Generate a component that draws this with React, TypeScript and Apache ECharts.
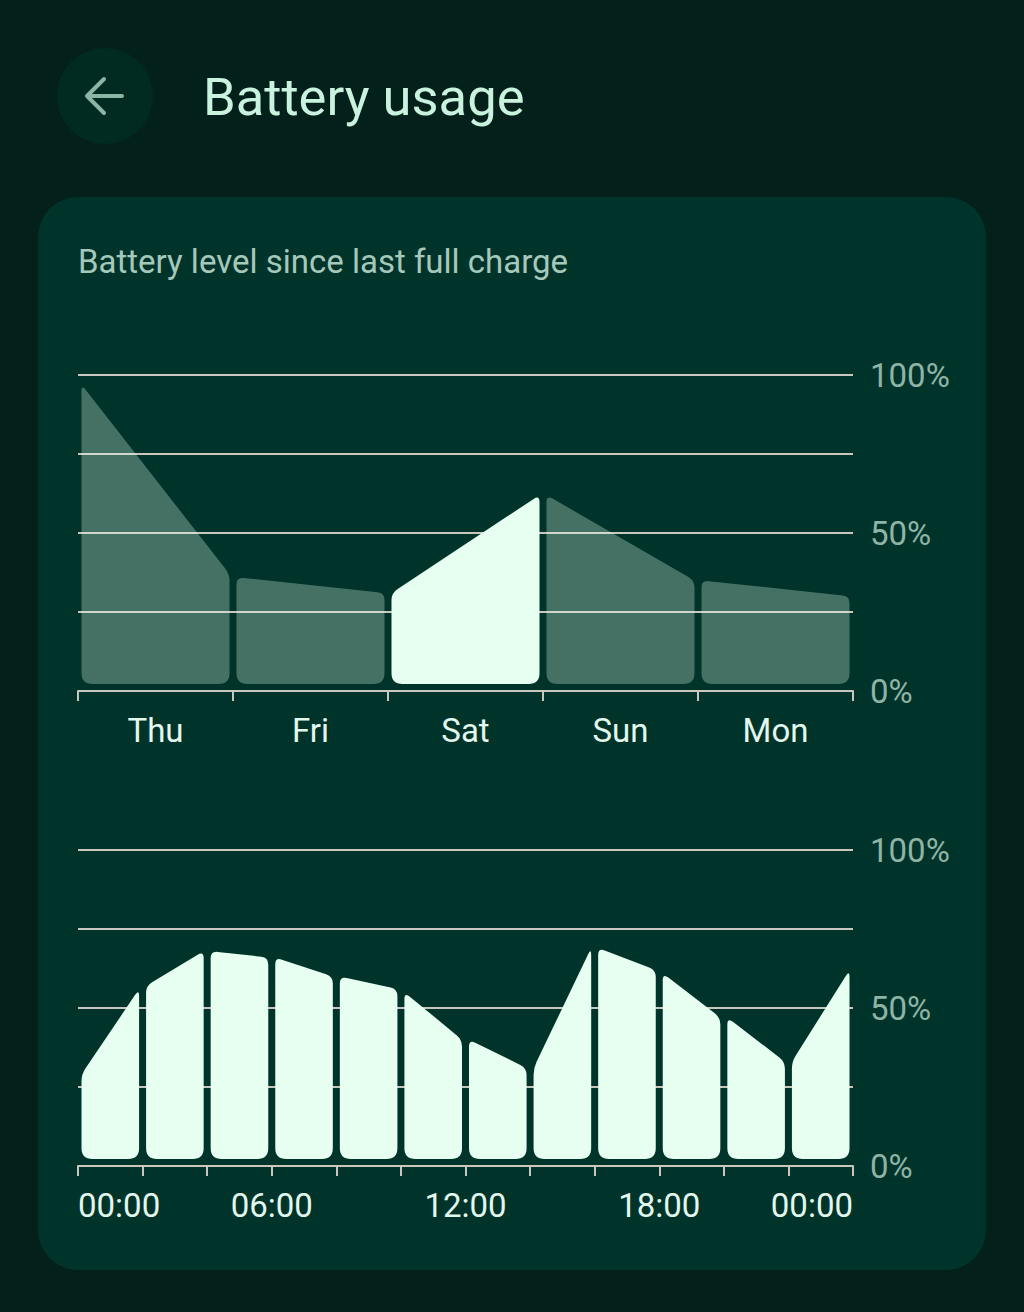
import React, { useEffect, useRef } from 'react';
import * as echarts from 'echarts';

// ---- data ----
const days = ['Thu', 'Fri', 'Sat', 'Sun', 'Mon'];
const dayStartLevel = [97, 36, 31, 62, 35];
const dayEndLevel = [37, 31, 62, 35, 30];
const selectedDay = 'Sat';

const hourBounds = [0, 2, 4, 6, 8, 10, 12, 14, 16, 18, 20, 22, 24];
const slotStartLevel = [29, 57, 68, 66, 60, 55, 40, 31, 69, 61, 47, 33];
const slotEndLevel = [56, 68, 66, 60, 56, 40, 31, 69, 62, 47, 33, 62];

const levelLabelValues = [0, 50, 100];
const hourLabelText: Record<number, string> = { 0: '00:00', 6: '06:00', 12: '12:00', 18: '18:00', 24: '00:00' };

const titleText = 'Battery usage';
const subtitleText = 'Battery level since last full charge';

// ---- styles ----
const PAGE_BG = '#03201a';
const CARD_BG = '#00342a';
const GRID_COLOR = '#c8c6bd';
const BAR_LIGHT = '#e6fff0';
const BAR_MUTED = 'rgba(230,255,240,0.3)';
const Y_LABEL = '#8fb4a6';
const X_LABEL = '#e3f7ec';
const FONT = 'Roboto';

function roundedPath(pts: number[][], radii: number[]): string {
  const n = pts.length;
  let d = '';
  for (let i = 0; i < n; i++) {
    const p = pts[i];
    const prev = pts[(i - 1 + n) % n];
    const next = pts[(i + 1) % n];
    const lp = Math.max(1e-6, Math.hypot(prev[0] - p[0], prev[1] - p[1]));
    const ln = Math.max(1e-6, Math.hypot(next[0] - p[0], next[1] - p[1]));
    const r = Math.min(radii[i], lp / 2, ln / 2);
    const a = [p[0] + ((prev[0] - p[0]) / lp) * r, p[1] + ((prev[1] - p[1]) / lp) * r];
    const b = [p[0] + ((next[0] - p[0]) / ln) * r, p[1] + ((next[1] - p[1]) / ln) * r];
    d += (i === 0 ? 'M' : 'L') + a[0] + ' ' + a[1] + ' Q' + p[0] + ' ' + p[1] + ' ' + b[0] + ' ' + b[1] + ' ';
  }
  return d + 'Z';
}

const INSET = 3.5;
const BOTTOM_GAP = 7;
const RADII = [11, 11, 7, 7];

function barShape(x0: number, x1: number, yb: number, ys: number, ye: number) {
  return roundedPath(
    [
      [x0, yb],
      [x1, yb],
      [x1, ye],
      [x0, ys],
    ],
    RADII
  );
}

export default function App() {
  const ref = useRef<HTMLDivElement>(null);

  useEffect(() => {
    if (!ref.current) return;
    const chart = echarts.init(ref.current, null, { renderer: 'svg' });

    const axisLineStyle = { color: GRID_COLOR, width: 2 };

    const yAxisBase = (gridIndex: number) => ({
      type: 'value',
      gridIndex,
      position: 'right',
      min: 0,
      max: 100,
      interval: 25,
      axisLine: { show: false },
      axisTick: { show: false },
      splitLine: { show: true, lineStyle: { color: GRID_COLOR, width: 2 } },
      axisLabel: {
        margin: 17,
        color: Y_LABEL,
        fontSize: 33,
        fontFamily: FONT,
        padding: [4, 0, 0, 0],
        formatter: (v: number) => (levelLabelValues.indexOf(v) >= 0 ? v + '%' : ''),
      },
    });

    const option: any = {
      animation: false,
      backgroundColor: PAGE_BG,
      graphic: [
        {
          type: 'rect',
          shape: { x: 38, y: 197, width: 948, height: 1073, r: 40 },
          style: { fill: CARD_BG },
          z: -10,
        },
        {
          type: 'circle',
          shape: { cx: 105, cy: 96, r: 48 },
          style: { fill: '#012a21' },
        },
        {
          type: 'polyline',
          shape: { points: [[104, 79], [87, 96], [104, 113]] },
          style: { stroke: '#8ab6a6', lineWidth: 4, fill: null, lineCap: 'round', lineJoin: 'round' },
        },
        {
          type: 'line',
          shape: { x1: 88, y1: 96, x2: 122, y2: 96 },
          style: { stroke: '#8ab6a6', lineWidth: 4, lineCap: 'round' },
        },
        {
          type: 'text',
          x: 203,
          y: 97,
          style: {
            text: titleText,
            fill: '#c9f2df',
            fontSize: 52.5,
            fontFamily: FONT,
            verticalAlign: 'middle',
            align: 'left',
          },
        },
        {
          type: 'text',
          x: 78,
          y: 261,
          style: {
            text: subtitleText,
            fill: '#a6c8bb',
            fontSize: 33,
            fontFamily: FONT,
            verticalAlign: 'middle',
            align: 'left',
          },
        },
      ],
      grid: [
        { left: 78, right: 171, top: 375, height: 316, outerBoundsMode: 'none', containLabel: false },
        { left: 78, right: 171, top: 850, height: 316, outerBoundsMode: 'none', containLabel: false },
      ],
      xAxis: [
        {
          type: 'category',
          gridIndex: 0,
          data: days,
          boundaryGap: true,
          axisLine: { show: true, lineStyle: axisLineStyle },
          axisTick: { show: true, length: 10, alignWithLabel: false, lineStyle: axisLineStyle },
          axisLabel: { margin: 23, color: X_LABEL, fontSize: 33, fontFamily: FONT },
          splitLine: { show: false },
        },
        {
          type: 'value',
          gridIndex: 1,
          min: 0,
          max: 24,
          interval: 2,
          axisLine: { show: true, lineStyle: axisLineStyle },
          axisTick: { show: true, length: 10, lineStyle: axisLineStyle },
          axisLabel: {
            margin: 23,
            color: X_LABEL,
            fontSize: 33,
            fontFamily: FONT,
            showMinLabel: true,
            showMaxLabel: true,
            alignMinLabel: 'left',
            alignMaxLabel: 'right',
            formatter: (v: number) => hourLabelText[v] ?? '',
          },
          splitLine: { show: false },
        },
      ],
      yAxis: [yAxisBase(0), yAxisBase(1)],
      series: [
        {
          type: 'custom',
          xAxisIndex: 0,
          yAxisIndex: 0,
          encode: { x: 0, y: [1, 2] },
          data: days.map((d, i) => [i, dayStartLevel[i], dayEndLevel[i]]),
          renderItem: (params: any, api: any) => {
            const idx = api.value(0);
            const s = api.value(1);
            const e = api.value(2);
            const c = api.coord([idx, 0]);
            const bw = api.size([1, 0])[0];
            const x0 = c[0] - bw / 2 + INSET;
            const x1 = c[0] + bw / 2 - INSET;
            const yb = c[1] - BOTTOM_GAP;
            const ys = api.coord([idx, s])[1];
            const ye = api.coord([idx, e])[1];
            const fill = days[params.dataIndex] === selectedDay ? BAR_LIGHT : BAR_MUTED;
            return {
              type: 'path',
              shape: { pathData: barShape(x0, x1, yb, ys, ye) },
              style: { fill },
            };
          },
        },
        {
          type: 'custom',
          xAxisIndex: 1,
          yAxisIndex: 1,
          encode: { x: [0, 3], y: [1, 2] },
          data: slotStartLevel.map((s, i) => [hourBounds[i], s, slotEndLevel[i], hourBounds[i + 1]]),
          renderItem: (params: any, api: any) => {
            const h0 = api.value(0);
            const h1 = api.value(3);
            const s = api.value(1);
            const e = api.value(2);
            const c0 = api.coord([h0, 0]);
            const c1 = api.coord([h1, 0]);
            const x0 = c0[0] + INSET;
            const x1 = c1[0] - INSET;
            const yb = c0[1] - BOTTOM_GAP;
            const ys = api.coord([h0, s])[1];
            const ye = api.coord([h1, e])[1];
            return {
              type: 'path',
              shape: { pathData: barShape(x0, x1, yb, ys, ye) },
              style: { fill: BAR_LIGHT },
            };
          },
        },
      ],
    };

    chart.setOption(option);
    return () => chart.dispose();
  }, []);

  return (
    <div
      ref={ref}
      style={{ position: 'absolute', left: 0, top: 0, width: 1024, height: 1312 }}
    />
  );
}
